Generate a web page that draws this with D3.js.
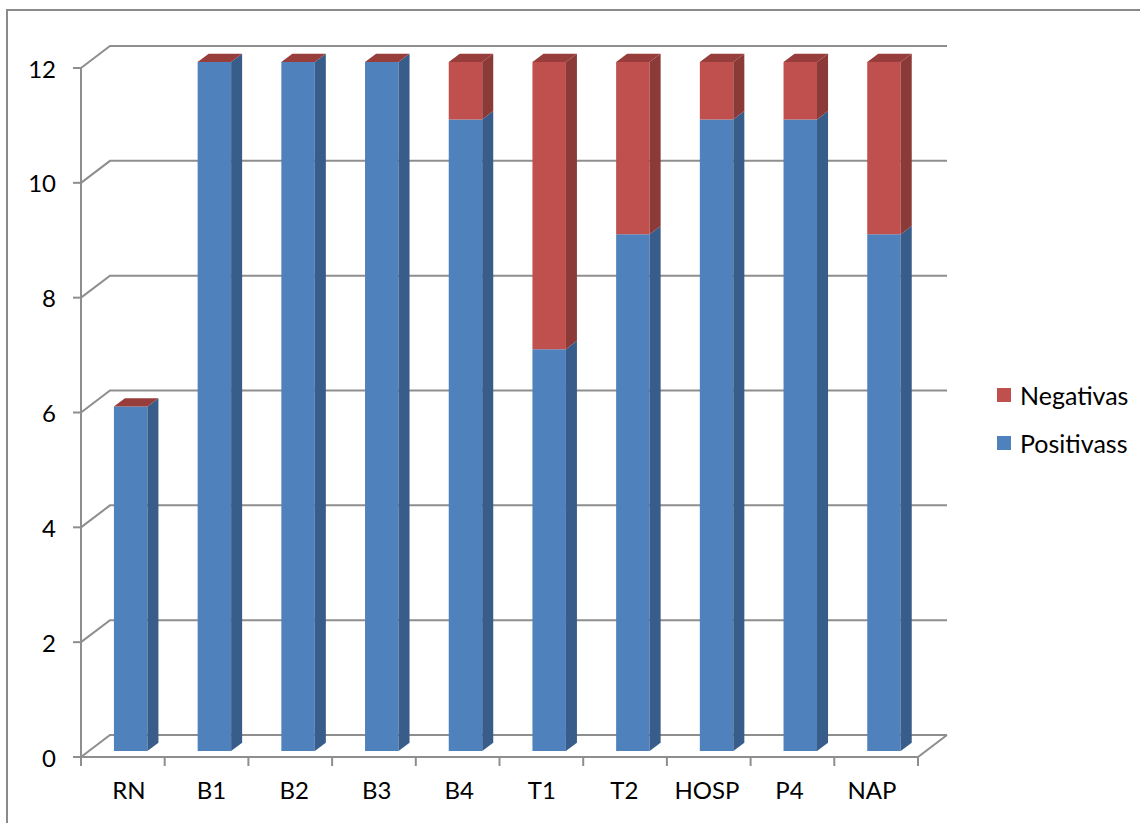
<!DOCTYPE html>
<html>
<head>
<meta charset="utf-8">
<script src="https://cdn.jsdelivr.net/npm/d3@7"></script>
<style>
  html, body { margin: 0; padding: 0; background: #fff; }
  svg { display: block; }
  text { font-family: Lato, "Open Sans", sans-serif; fill: #000; }
</style>
</head>
<body>
<svg id="chart" width="1140" height="823"></svg>
<script>
// Data
const categories = ["RN", "B1", "B2", "B3", "B4", "T1", "T2", "HOSP", "P4", "NAP"];
const positivas = [6, 12, 12, 12, 11, 7, 9, 11, 11, 9];
const negativas = [0, 0, 0, 0, 1, 5, 3, 1, 1, 3];
const yTicks = [0, 2, 4, 6, 8, 10, 12];
const seriesNames = ["Positivass", "Negativas"];

const svg = d3.select("#chart");

// Layout of the 3D box: front plane and depth vector
const front = { left: 81, right: 918, top: 68, bottom: 757 };
const depth = { dx: 29, dy: -22 };
const barZ = [0.27, 0.65];   // bar front / back depth fractions

const colors = {
  Positivass: { front: "#4F81BD", side: "#385D8A", top: "#6A93C9" },
  Negativas:  { front: "#C0504D", side: "#8C3A38", top: "#973D3B" }
};
const gridColor = "#8E8E8E";

const x = d3.scaleBand()
  .domain(categories)
  .range([front.left, front.right])
  .paddingInner(0.6)
  .paddingOuter(0.3);

const xStep = d3.scaleBand()
  .domain(categories)
  .range([front.left, front.right]);

const y = d3.scaleLinear().domain([0, 12]).range([front.bottom, front.top]);

// project a (screen x on front plane, value, depth) into screen coords
const P = (sx, v, z) => [sx + z * depth.dx, y(v) + z * depth.dy];

// Outer frame
svg.append("rect")
  .attr("x", 7).attr("y", 10)
  .attr("width", 1200).attr("height", 900)
  .attr("fill", "none")
  .attr("stroke", "#8A8A8A")
  .attr("stroke-width", 2);

// Gridlines: left side-wall diagonal + back wall line
const grid = svg.append("g").attr("stroke", gridColor).attr("stroke-width", 2).attr("fill", "none");
yTicks.forEach(v => {
  const a = P(front.left, v, 0), b = P(front.left, v, 1), c = P(front.right, v, 1);
  grid.append("path").attr("d", d3.line()([a, b, c]));
});
// Floor front edge and right diagonal
{
  const a = P(front.left, 0, 0), b = P(front.right, 0, 0), c = P(front.right, 0, 1);
  grid.append("path").attr("d", d3.line()([a, b, c]));
}
// Vertical axis line on the front plane
grid.append("line")
  .attr("x1", front.left).attr("x2", front.left)
  .attr("y1", y(12)).attr("y2", y(0));

// Y axis ticks and labels
yTicks.forEach(v => {
  grid.append("line")
    .attr("x1", front.left - 8).attr("x2", front.left)
    .attr("y1", y(v)).attr("y2", y(v));
  svg.append("text")
    .attr("x", 56).attr("y", y(v))
    .attr("text-anchor", "end")
    .attr("dominant-baseline", "central")
    .attr("font-size", 24)
    .text(v);
});

// X axis ticks at category boundaries
const boundaries = categories.map(c => xStep(c)).concat([front.right]);
boundaries.forEach(bx => {
  grid.append("line")
    .attr("x1", bx).attr("x2", bx)
    .attr("y1", y(0)).attr("y2", y(0) + 9);
});

// Category labels
const xl = d3.scalePoint().domain(categories).range([129, 872]);
categories.forEach(c => {
  svg.append("text")
    .attr("x", xl(c)).attr("y", 799)
    .attr("text-anchor", "middle")
    .attr("font-size", 24)
    .text(c);
});

// Stacked 3D columns
const stacked = categories.map((c, i) => ({
  cat: c,
  segs: [
    { name: "Positivass", y0: 0, y1: positivas[i] },
    { name: "Negativas", y0: positivas[i], y1: positivas[i] + negativas[i] }
  ]
}));

const bars = svg.append("g");
stacked.forEach(d => {
  const x0 = x(d.cat), x1 = x0 + x.bandwidth();
  const [zf, zb] = barZ;
  d.segs.forEach((s, si) => {
    const col = colors[s.name];
    const g = bars.append("g");
    if (s.y1 > s.y0) {
      // front face
      g.append("path")
        .attr("d", d3.line()([P(x0, s.y0, zf), P(x1, s.y0, zf), P(x1, s.y1, zf), P(x0, s.y1, zf)]) + "Z")
        .attr("fill", col.front);
      // side face
      g.append("path")
        .attr("d", d3.line()([P(x1, s.y0, zf), P(x1, s.y0, zb), P(x1, s.y1, zb), P(x1, s.y1, zf)]) + "Z")
        .attr("fill", col.side);
    }
    if (si === d.segs.length - 1) {
      // top face of the stack
      g.append("path")
        .attr("d", d3.line()([P(x0, s.y1, zf), P(x1, s.y1, zf), P(x1, s.y1, zb), P(x0, s.y1, zb)]) + "Z")
        .attr("fill", col.top);
    }
  });
});

// Legend
const legend = svg.append("g");
const legendItems = [
  { name: "Negativas", y: 395 },
  { name: "Positivass", y: 443 }
];
legendItems.forEach(it => {
  legend.append("rect")
    .attr("x", 997).attr("y", it.y - 7)
    .attr("width", 14).attr("height", 14)
    .attr("fill", colors[it.name].front);
  legend.append("text")
    .attr("x", 1020).attr("y", it.y)
    .attr("dominant-baseline", "central")
    .attr("font-size", 25)
    .text(it.name);
});
</script>
</body>
</html>
